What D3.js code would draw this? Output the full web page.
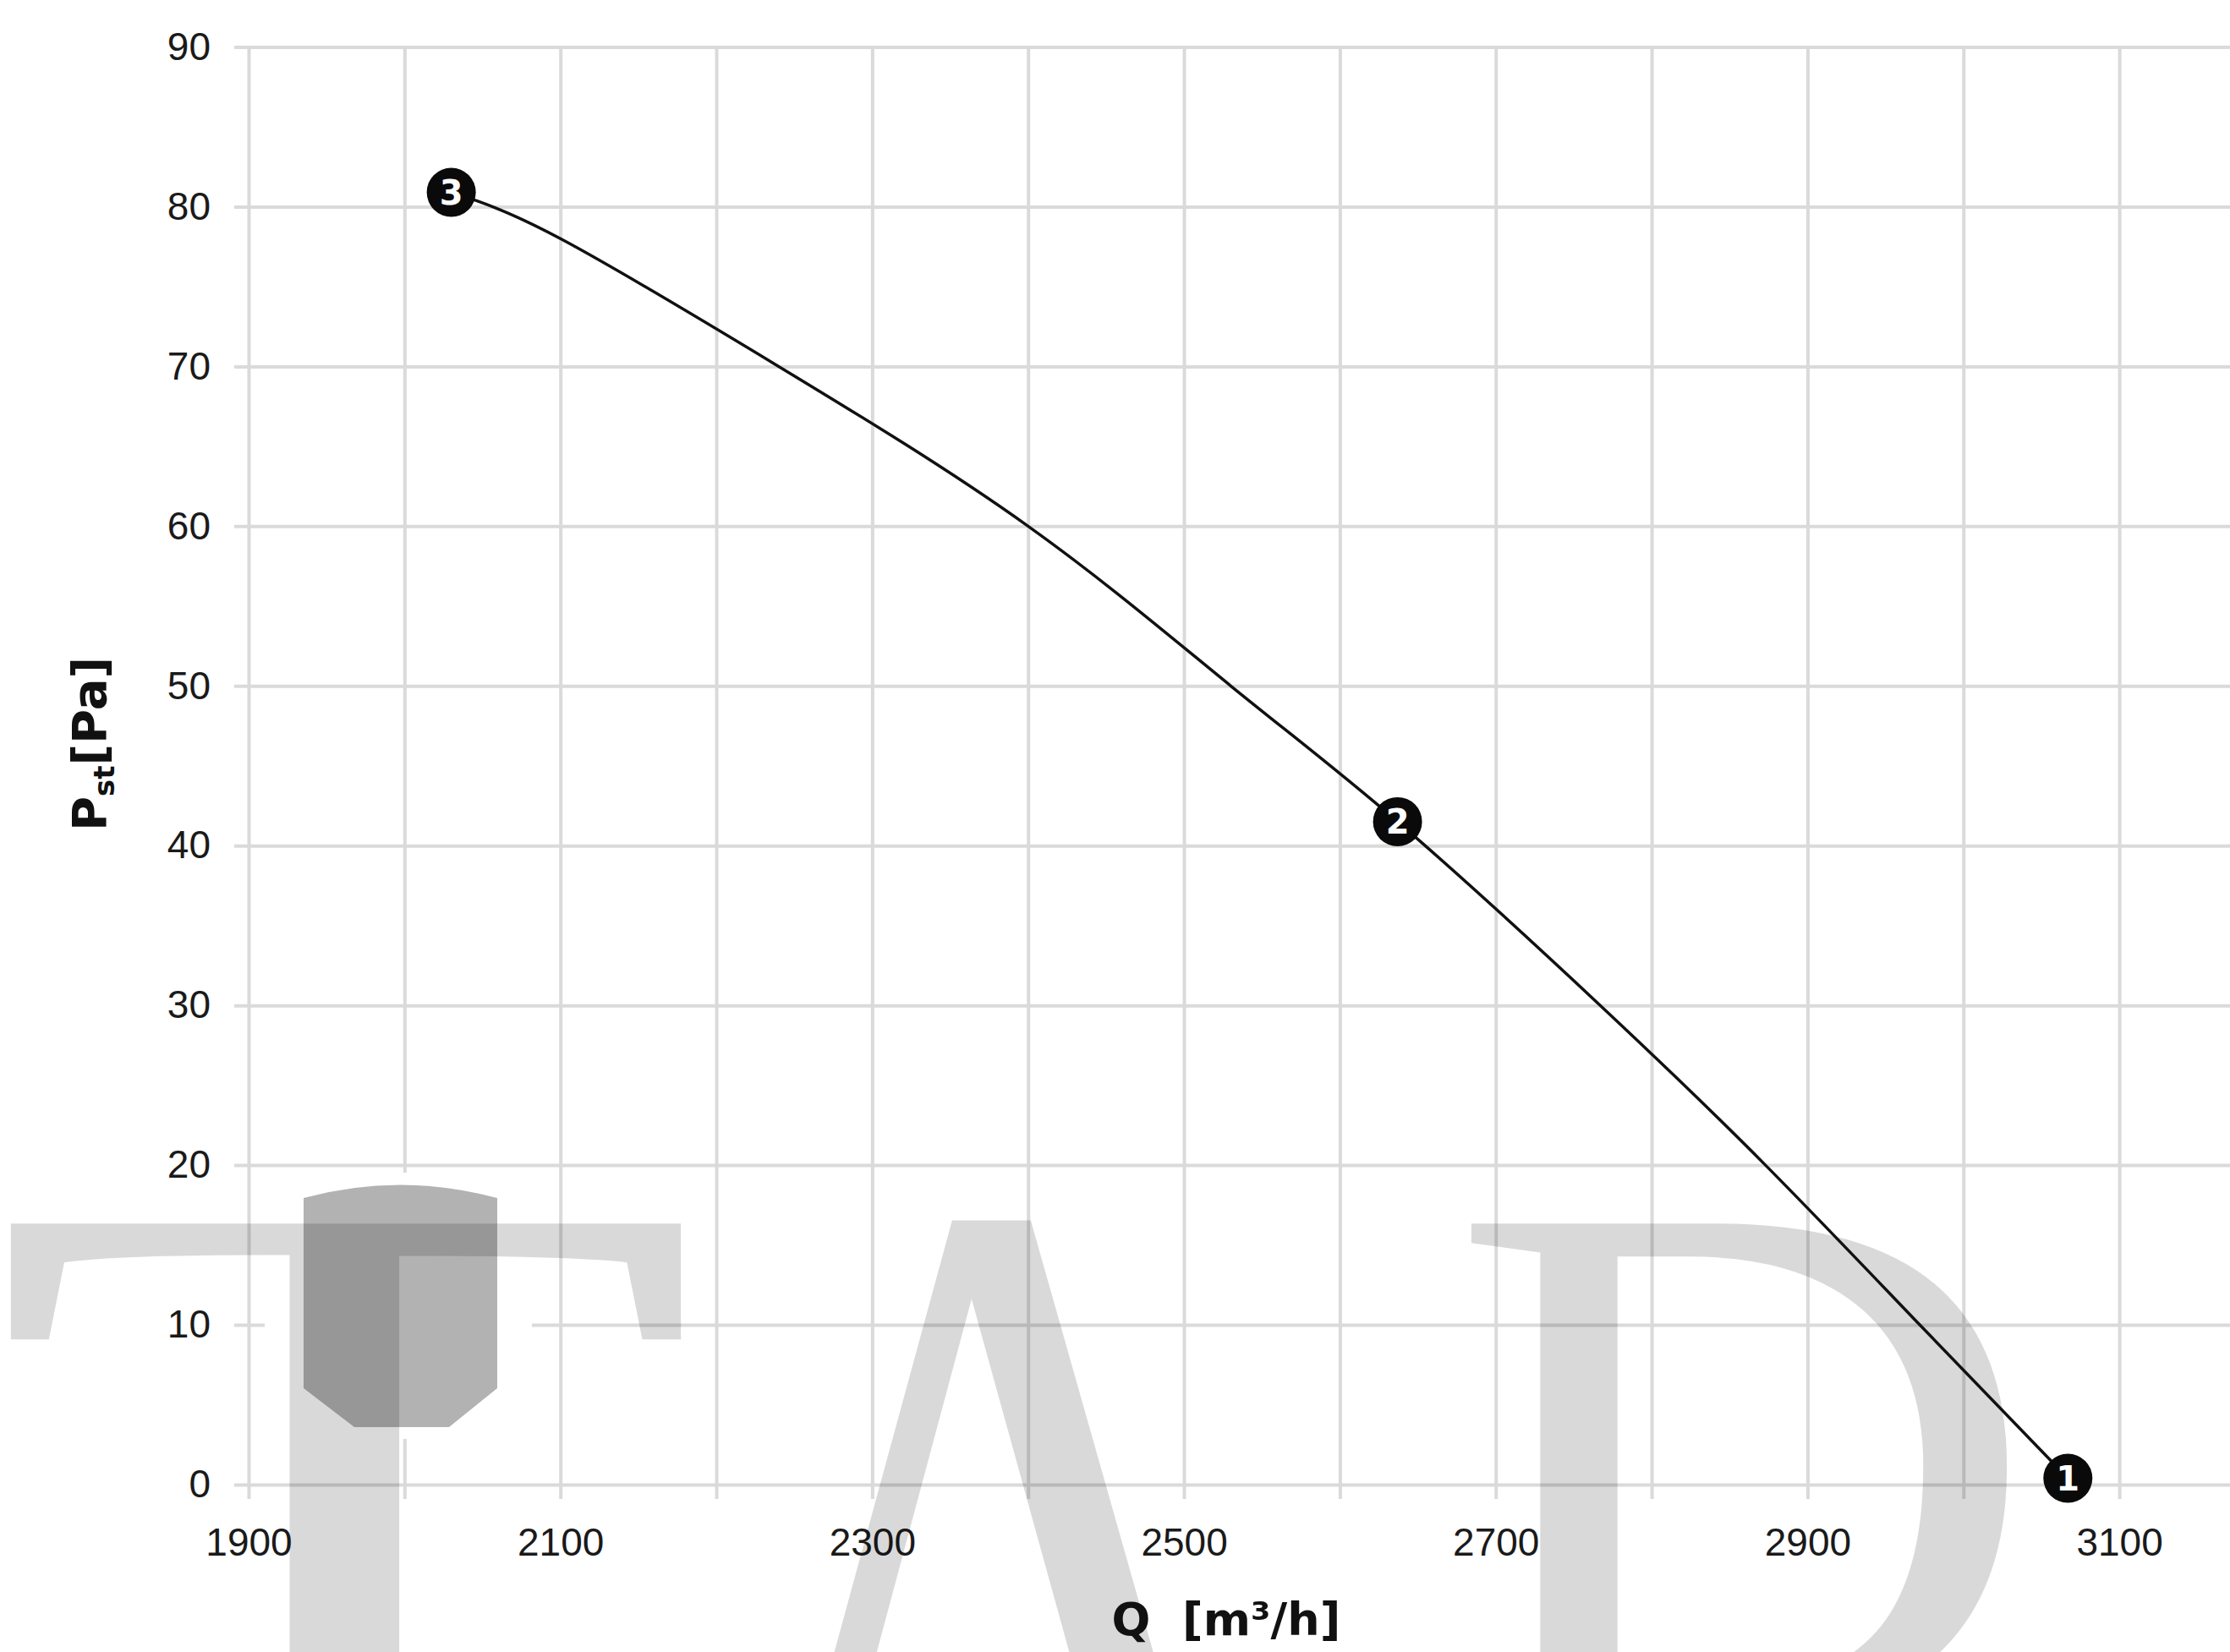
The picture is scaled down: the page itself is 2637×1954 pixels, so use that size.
<!DOCTYPE html>
<html>
<head>
<meta charset="utf-8">
<script src="https://cdn.jsdelivr.net/npm/d3@7"></script>
<style>
  html, body { margin: 0; padding: 0; background: #fff; }
  svg { display: block; }
</style>
</head>
<body>
<svg id="chart"></svg>
<script>
// Fan curve
const curveQ = [2030, 2100, 2240, 2400, 2530, 2637, 2767, 2873, 2972, 3067];
const curveP = [80.9, 78.0, 70, 60, 50, 41.5, 30, 20, 10, 0.4];

// Numbered operating points
const pointLabels = ['3', '2', '1'];
const pointQ = [2030, 2637, 3067];
const pointP = [80.9, 41.5, 0.4];

// Ticks
const xGridTicks = [1900, 2000, 2100, 2200, 2300, 2400, 2500, 2600, 2700, 2800, 2900, 3000, 3100];
const xLabelTicks = [1900, 2100, 2300, 2500, 2700, 2900, 3100];
const yTicks = [0, 10, 20, 30, 40, 50, 60, 70, 80, 90];

const W = 2637, H = 1954;
const plotLeft = 294, plotRight = W, plotTop = 55.5, plotBottom = 1756;
const tickLen = 17;

const svg = d3.select('#chart')
  .attr('width', W)
  .attr('height', H);

svg.append('rect')
  .attr('width', W)
  .attr('height', H)
  .attr('fill', '#fff');

// Scales
const x = d3.scaleLinear()
  .domain([1900, 3171])
  .range([plotLeft, plotRight]);

const y = d3.scaleLinear()
  .domain([0, 90])
  .range([plotBottom, plotTop]);

// Vertical gridlines + x labels
const xAxis = svg.append('g')
  .attr('transform', `translate(0,${plotBottom + tickLen})`)
  .call(d3.axisBottom(x)
    .tickValues(xGridTicks)
    .tickSize(-(plotBottom + tickLen - plotTop))
    .tickPadding(34)
    .tickFormat(d => xLabelTicks.includes(d) ? d : ''));

// Horizontal gridlines + y labels
const yAxis = svg.append('g')
  .attr('transform', `translate(${plotLeft - tickLen},0)`)
  .call(d3.axisLeft(y)
    .tickValues(yTicks)
    .tickSize(-(plotRight - plotLeft + tickLen))
    .tickPadding(28));

[xAxis, yAxis].forEach(g => {
  g.select('.domain').remove();
  g.selectAll('.tick line')
    .attr('stroke', '#dadada')
    .attr('stroke-width', 4);
  g.selectAll('.tick text')
    .attr('fill', '#1a1a1a')
    .style('font-family', '"Liberation Sans", Arial, sans-serif')
    .style('font-size', '46px');
});

// Watermark (white patch behind the logo hides the grid)
const mark = svg.append('g');
mark.append('rect')
  .attr('x', 313).attr('y', 1387)
  .attr('width', 316).attr('height', 315)
  .attr('fill', '#fff');

const letters = [
  { t: 'T', x: -12, y: 2030, size: 890, len: 840, anchor: 'start' },
  { t: 'A', x: 1180, y: 2315, size: 1320, len: 724, anchor: 'middle' },
  { t: 'D', x: 1712, y: 2030, size: 890, len: 700, anchor: 'start' }
];
mark.selectAll('text.wm')
  .data(letters)
  .enter()
  .append('text')
  .attr('class', 'wm')
  .attr('x', d => d.x)
  .attr('y', d => d.y)
  .attr('text-anchor', d => d.anchor)
  .attr('textLength', d => d.len)
  .attr('lengthAdjust', 'spacingAndGlyphs')
  .style('font-family', '"Liberation Serif", "DejaVu Serif", serif')
  .style('font-size', d => d.size + 'px')
  .attr('fill', '#000')
  .attr('fill-opacity', 0.15)
  .text(d => d.t);

// Logo barrel
mark.append('path')
  .attr('d', 'M359,1417 Q473,1386 588,1417 L588,1642 L531,1688 L419,1688 L359,1642 Z')
  .attr('fill', '#000')
  .attr('fill-opacity', 0.3);

// Curve
const curve = curveQ.map((q, i) => ({ q, p: curveP[i] }));
const line = d3.line()
  .x(d => x(d.q))
  .y(d => y(d.p))
  .curve(d3.curveNatural);

svg.append('path')
  .datum(curve)
  .attr('d', line)
  .attr('fill', 'none')
  .attr('stroke', '#111')
  .attr('stroke-width', 3.5);

// Numbered markers
const pts = pointLabels.map((l, i) => ({ l, q: pointQ[i], p: pointP[i] }));
const marker = svg.selectAll('.pt')
  .data(pts)
  .enter()
  .append('g')
  .attr('class', 'pt')
  .attr('transform', d => `translate(${x(d.q)},${y(d.p)})`);

marker.append('circle')
  .attr('r', 29)
  .attr('fill', '#0a0a0a');

marker.append('text')
  .attr('text-anchor', 'middle')
  .attr('dy', '0.36em')
  .attr('fill', '#fff')
  .style('font-family', '"DejaVu Sans", sans-serif')
  .style('font-weight', 'bold')
  .style('font-size', '40px')
  .text(d => d.l);

// X-axis title
svg.append('text')
  .attr('x', 1450)
  .attr('y', 1934)
  .attr('text-anchor', 'middle')
  .attr('fill', '#111')
  .style('font-family', '"DejaVu Sans", sans-serif')
  .style('font-weight', 'bold')
  .style('font-size', '54px')
  .style('white-space', 'pre')
  .text('Q  [m³/h]');

// Y-axis title
const yTitle = svg.append('text')
  .attr('transform', 'translate(125,880) rotate(-90)')
  .attr('text-anchor', 'middle')
  .attr('fill', '#111')
  .style('font-family', '"DejaVu Sans", sans-serif')
  .style('font-weight', 'bold')
  .style('font-size', '56px');
yTitle.append('tspan').text('P');
yTitle.append('tspan')
  .attr('dy', 10)
  .style('font-size', '34px')
  .text('st');
yTitle.append('tspan')
  .attr('dy', -10)
  .text('[Pa]');
</script>
</body>
</html>
